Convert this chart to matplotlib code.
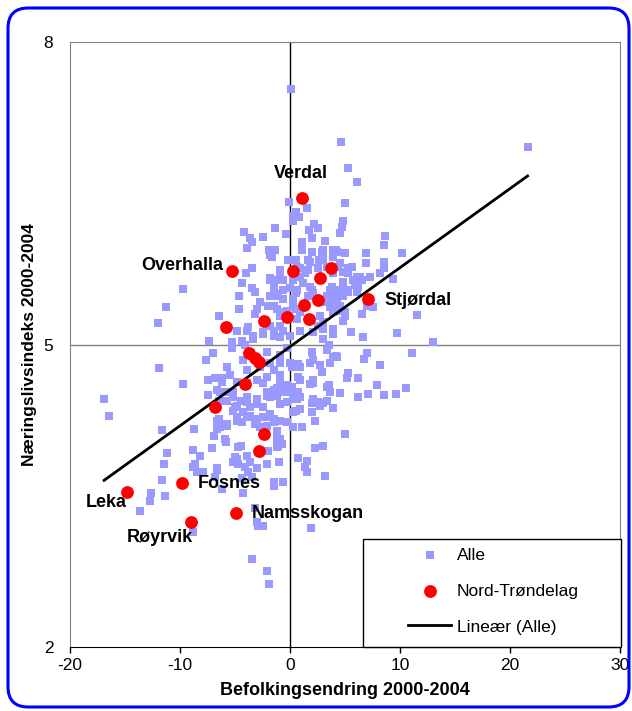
import numpy as np
import matplotlib.pyplot as plt
from matplotlib.patches import FancyBboxPatch, Rectangle

plt.rcParams['font.family'] = ['Liberation Sans', 'DejaVu Sans']
plt.rcParams['axes.unicode_minus'] = False

# Alle kommuner: (befolkningsendring, naeringslivsindeks), lest av figuren
alle = [
    (0.1, 7.53), (-9.7, 5.55), (-11.3, 5.37), (-12.0, 5.21), (-6.5, 5.28), (-7.4, 5.03), (-5.3, 5.02),
    (-4.2, 6.12), (-3.6, 6.06), (-3.5, 6.02), (-3.9, 5.96), (-2.5, 6.07), (-1.4, 6.16), (-0.4, 6.10),
    (-0.1, 6.41), (0.3, 6.27), (0.8, 6.26), (0.3, 6.22), (1.5, 6.35), (2.2, 6.20), (2.5, 6.16),
    (1.7, 6.14), (1.1, 6.02), (1.1, 5.94), (2.0, 6.06), (3.2, 6.03), (3.0, 5.94), (3.9, 5.94), (4.6, 7.01),
    (-1.9, 5.94), (-1.4, 5.94), (-1.8, 5.89), (-3.5, 5.76), (-4.0, 5.71), (-4.4, 5.61), (-3.5, 5.56),
    (-3.2, 5.52), (-4.6, 5.48), (-4.6, 5.35), (-2.7, 5.42), (-3.0, 5.35), (-3.2, 5.30),
    (-1.8, 5.66), (-1.5, 5.57), (-1.1, 5.48), (-1.8, 5.48), (-1.5, 5.38), (-0.9, 5.72), (-0.6, 5.64),
    (-0.2, 5.84), (0.9, 5.76), (1.4, 5.71), (1.6, 5.84), (2.6, 5.84), (3.0, 5.89), (3.4, 5.77),
    (3.9, 5.71), (4.4, 5.77), (3.8, 5.57), (4.1, 5.48), (2.0, 5.54), (2.1, 5.48), (3.4, 5.43),
    (3.9, 5.38), (0.0, 5.56), (0.5, 5.51), (0.3, 5.45), (0.5, 5.35), (-0.6, 5.32),
    (-1.8, 5.18), (-2.5, 5.12), (-1.5, 5.08), (-3.4, 5.05), (-4.1, 5.00), (0.0, 5.08), (0.9, 5.13),
    (2.1, 5.12), (3.0, 5.15), (3.9, 5.15),
    (21.6, 6.96), (5.3, 6.75), (6.1, 6.61), (5.0, 6.40), (4.8, 6.22), (4.7, 6.17), (4.5, 6.11),
    (4.2, 5.94), (8.6, 6.08), (8.5, 5.99), (6.9, 5.91), (6.9, 5.81), (10.2, 5.91), (8.5, 5.82),
    (8.5, 5.76), (8.2, 5.71), (7.3, 5.67), (9.4, 5.65), (6.4, 5.67), (5.9, 5.59), (6.1, 5.52),
    (5.0, 5.91), (5.6, 5.77), (5.3, 5.71), (4.8, 5.62), (5.2, 5.54), (3.6, 5.51), (3.9, 5.45),
    (4.5, 5.38), (5.0, 5.32), (4.8, 5.23), (6.5, 5.30), (7.0, 5.38), (7.5, 5.37), (11.5, 5.29),
    (9.7, 5.11), (13.0, 5.02), (5.5, 5.12), (6.6, 5.07), (3.9, 5.10), (3.0, 5.05), (3.5, 5.00),
    (11.1, 4.92), (7.0, 4.92), (6.7, 4.86), (8.2, 4.80), (5.3, 4.72), (5.2, 4.67), (6.2, 4.67),
    (7.9, 4.60), (4.5, 4.52), (6.2, 4.48), (7.1, 4.51), (8.5, 4.50), (9.6, 4.51), (10.5, 4.57),
    (5.0, 4.11),
    (3.9, 4.88), (4.2, 4.89), (2.0, 4.93), (2.1, 4.85), (2.7, 4.80), (2.9, 4.73), (0.7, 4.81),
    (0.2, 4.78), (0.7, 4.68), (0.2, 4.58), (2.1, 4.65), (1.8, 4.61), (3.5, 4.60), (3.6, 4.53),
    (0.7, 4.53), (0.6, 4.46), (0.9, 4.48), (2.1, 4.46), (2.0, 4.42), (2.5, 4.43), (3.0, 4.42),
    (3.4, 4.44), (3.9, 4.37), (0.5, 4.34), (2.0, 4.33), (2.3, 4.24), (0.3, 4.18), (1.1, 4.18),
    (2.3, 3.97), (3.0, 3.99), (0.7, 3.87), (1.5, 3.84), (1.4, 3.79), (1.5, 3.74), (3.2, 3.70),
    (-1.5, 3.60), (-6.2, 3.57), (-4.3, 3.53), (-3.2, 3.38), (-3.0, 3.24), (-2.5, 3.20), (-2.9, 3.20),
    (-8.8, 3.14), (1.9, 3.18), (-3.5, 2.87), (-2.1, 2.75), (-1.9, 2.62),
    (-11.9, 4.77), (-9.7, 4.61), (-16.9, 4.46), (-16.5, 4.29), (-11.6, 4.15), (-11.2, 3.92),
    (-11.5, 3.81), (-11.6, 3.66), (-12.6, 3.53), (-12.7, 3.45), (-11.4, 3.50), (-13.6, 3.35),
    (-8.7, 4.16), (-8.8, 3.95), (-8.2, 3.89), (-8.8, 3.79), (-8.5, 3.74), (-7.5, 4.50), (-7.1, 3.97),
    (-7.6, 4.85), (-7.0, 4.92), (-7.5, 4.65), (-6.5, 4.26), (-6.6, 4.16), (-6.9, 4.09), (-5.7, 4.19),
    (-5.8, 4.03), (-6.6, 3.76), (-6.8, 3.69), (-6.2, 4.67), (-6.4, 4.53), (-5.2, 4.48), (-5.0, 4.38),
    (-4.8, 4.28), (-4.4, 4.23), (-5.7, 4.44), (-4.5, 3.99), (-5.2, 3.83), (-4.8, 3.86), (-4.1, 3.79),
    (-3.8, 3.74), (-4.4, 3.68), (-3.5, 3.69), (-2.1, 3.81), (-1.0, 3.83), (-1.2, 4.06), (-1.1, 3.99),
    (-2.7, 4.18), (-2.1, 4.19), (-1.2, 4.14), (-0.3, 4.23),
    (-3.9, 4.62), (-3.0, 4.65), (-2.1, 4.68), (-1.5, 4.55), (-3.9, 4.75), (-2.7, 4.78), (-1.8, 4.82),
    (-4.8, 4.39), (-3.9, 4.43), (-3.0, 4.46), (-2.1, 4.49), (-1.2, 4.49),
    (-4.3, 4.33), (-3.6, 4.29), (-3.0, 4.26), (-2.5, 4.28), (-1.5, 4.26),
    (-0.9, 4.65), (-0.6, 4.58), (0.0, 4.53), (0.3, 4.46), (-0.3, 4.43),
    (-0.9, 4.82), (0.0, 4.82), (0.9, 4.78), (1.8, 4.82), (3.6, 4.82), (4.3, 4.88),
    (0.9, 4.65), (2.1, 4.62), (3.4, 4.58), (0.3, 4.33), (0.9, 4.36), (2.7, 4.39), (3.4, 4.95),
    (-1.6, 5.87), (-0.9, 5.74), (-1.2, 5.64), (-1.8, 5.64), (-1.5, 5.54), (-1.1, 5.50), (-0.6, 5.54),
    (-2.0, 5.38), (-1.2, 5.35), (-0.6, 5.45), (-0.9, 5.28), (-0.3, 5.33), (-3.8, 5.17), (-0.9, 5.18),
    (0.5, 6.31), (2.0, 5.92), (2.9, 5.92), (3.0, 5.84), (4.3, 5.92), (3.9, 5.87), (0.5, 5.84),
    (0.6, 5.77), (1.8, 5.82), (1.6, 5.74), (2.5, 5.76), (4.5, 5.81), (4.8, 5.72), (5.3, 5.76),
    (6.1, 5.67), (5.7, 5.64), (6.5, 5.64), (0.9, 5.67), (1.2, 5.61), (0.6, 5.54), (0.3, 5.64),
    (1.8, 5.57), (2.1, 5.51), (1.6, 5.48), (3.6, 5.54), (3.4, 5.48), (3.9, 5.50), (4.5, 5.54),
    (4.8, 5.48), (5.3, 5.52), (6.2, 5.57), (3.0, 5.42), (3.6, 5.37), (4.3, 5.42), (4.5, 5.33),
    (5.0, 5.28), (3.9, 5.32), (0.3, 5.38), (0.9, 5.32), (0.6, 5.25), (2.7, 5.28), (3.0, 5.22), (2.5, 5.18),
    (-4.8, 5.13), (-3.9, 5.13), (-3.4, 5.08), (-2.5, 5.10), (-1.5, 5.13), (-0.9, 5.07), (-0.6, 5.13),
    (-5.3, 4.97), (-4.4, 5.03), (-4.3, 4.85), (-2.1, 4.93), (-1.5, 4.75), (-0.9, 4.90), (-0.3, 4.97),
    (-0.9, 4.70), (-5.7, 4.78), (-5.5, 4.70), (-6.8, 4.67), (-6.2, 4.63), (-6.5, 4.44), (-6.6, 4.55),
    (-5.9, 4.53), (-5.2, 4.53), (-4.8, 4.63), (-2.5, 4.62), (-2.1, 4.53), (-1.8, 4.48), (-1.2, 4.57),
    (-0.6, 4.53), (-0.3, 4.60), (0.3, 4.53), (-4.5, 4.44), (-3.9, 4.48), (-3.6, 4.38), (-3.0, 4.41),
    (-2.5, 4.38), (-1.8, 4.31), (-0.9, 4.41), (-5.2, 4.34), (-4.8, 4.24), (-5.7, 4.21), (-6.4, 4.18),
    (-6.6, 4.24), (-3.9, 4.28), (-3.2, 4.21), (-2.1, 4.28), (-1.5, 4.23), (-0.9, 4.24), (-5.9, 4.06),
    (-0.9, 4.06), (-0.7, 4.01), (-1.2, 3.98), (-4.7, 3.98), (-3.9, 3.89), (-2.0, 3.94),
    (-5.0, 3.88), (-4.7, 3.81), (-3.6, 3.83), (-3.0, 3.78), (-8.6, 3.81), (-7.9, 3.74), (-6.6, 3.78),
    (-1.5, 3.64), (-0.6, 3.64),
]
alle_x = np.array([p[0] for p in alle])
alle_y = np.array([p[1] for p in alle])

# Nord-Trøndelag
nt_x = [1.1, -5.3, 0.3, 2.7, 3.7, 1.3, 2.5, 1.7, -0.3, -2.4, -5.8, 7.1,
        -3.7, -3.2, -2.8, -4.1, -6.8, -2.4, -2.8, -9.8, -14.8, -4.9, -9.0]
nt_y = [6.45, 5.73, 5.73, 5.66, 5.76, 5.39, 5.44, 5.25, 5.27, 5.23, 5.17, 5.45,
        4.92, 4.87, 4.83, 4.61, 4.38, 4.11, 3.94, 3.63, 3.54, 3.33, 3.24]
navn = {0: 'Verdal', 1: 'Overhalla', 11: 'Stjørdal', 19: 'Fosnes',
        20: 'Leka', 21: 'Namsskogan', 22: 'Røyrvik'}

# lineær trend (Alle)
trend_slope = 0.0784
trend_intercept = 4.978

x_ticks = [-20, -10, 0, 10, 20, 30]
y_ticks = [2, 5, 8]

W, H = 632, 711
fig = plt.figure(figsize=(W / 100, H / 100), dpi=100)
ax = fig.add_axes([70 / W, 1 - 647 / H, 550 / W, 605 / H])

ax.set_xlim(-20, 30)
ax.set_ylim(2, 8)
ax.set_xticks(x_ticks)
ax.set_yticks(y_ticks)
ax.axvline(0, color='black', lw=1, zorder=1)
ax.axhline(5, color='#808080', lw=1, zorder=1)
for s in ['top', 'right', 'left']:
    ax.spines[s].set_color('#808080')
ax.spines['bottom'].set_color('black')
ax.tick_params(axis='x', direction='out', length=4, width=1, labelsize=12.5, pad=4)
ax.tick_params(axis='y', length=0, labelsize=12.5, pad=12)

sc1 = ax.scatter(alle_x, alle_y, marker='s', s=34, color='#9999FF', linewidths=0,
                 zorder=2, label='Alle')
xs = np.array([alle_x.min(), alle_x.max()])
ln, = ax.plot(xs, trend_intercept + trend_slope * xs, color='black', lw=2,
              zorder=3, label='Lineær (Alle)')
sc2 = ax.scatter(nt_x, nt_y, marker='o', s=85, color='red', linewidths=0,
                 zorder=4, label='Nord-Trøndelag')

offs = {'Verdal': (-1, 25, 'center'), 'Overhalla': (-8, 5, 'right'),
        'Stjørdal': (16, -1, 'left'), 'Fosnes': (16, -1, 'left'),
        'Leka': (0, -11, 'right'), 'Namsskogan': (16, -1, 'left'),
        'Røyrvik': (2, -16, 'right')}
for i, name in navn.items():
    dx, dy, ha = offs[name]
    ax.annotate(name, (nt_x[i], nt_y[i]), xytext=(dx, dy), textcoords='offset pixels',
                ha=ha, va='center', fontsize=13, fontweight='bold', zorder=6)

ax.set_xlabel('Befolkingsendring 2000-2004', fontsize=13, fontweight='bold')
ax.xaxis.set_label_coords(0.5, -0.058)
ax.set_ylabel('Næringslivsindeks 2000-2004', fontsize=12.5, fontweight='bold')
ax.yaxis.set_label_coords(-0.06, 0.5)

frame = Rectangle((0.533, 0), 0.469, 0.1785, transform=ax.transAxes, facecolor='white',
                  edgecolor='black', lw=1, zorder=7, clip_on=False)
ax.add_patch(frame)
leg = ax.legend([sc1, sc2, ln], ['Alle', 'Nord-Trøndelag', 'Lineær (Alle)'],
                loc='center left', bbox_to_anchor=(0.6145, 0.0926), frameon=False,
                borderpad=0, borderaxespad=0, handlelength=2.5, handletextpad=0.3,
                labelspacing=1.2, fontsize=12.5)
leg.set_zorder(8)

border = FancyBboxPatch((8 / W, 1 - 707 / H), 621 / W, 699 / H,
                        boxstyle='round,pad=0,rounding_size=0.032', mutation_aspect=W / H,
                        transform=fig.transFigure, fill=False, edgecolor='#0000FF', lw=2.2)
fig.add_artist(border)

fig.savefig('out.png', dpi=100)
